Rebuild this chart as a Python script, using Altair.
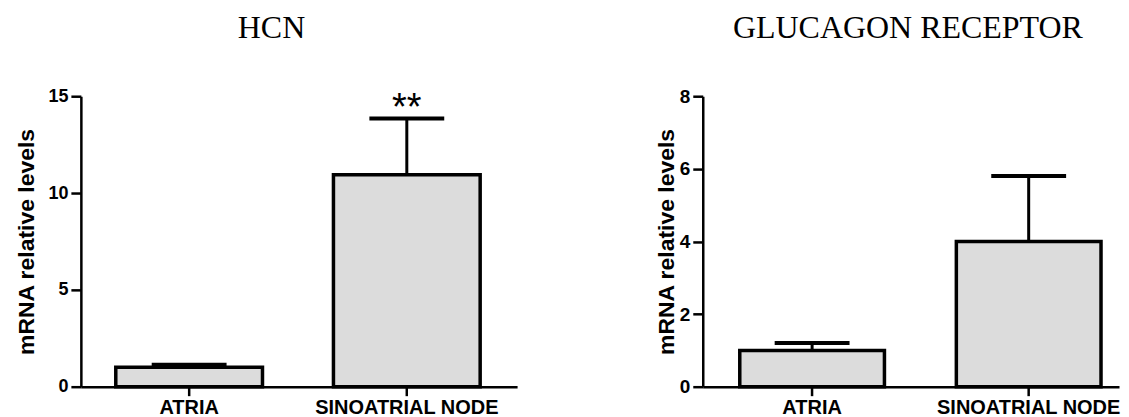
import altair as alt
import pandas as pd

categories = ["ATRIA", "SINOATRIAL NODE"]

hcn_mean = [1.0, 10.95]
hcn_err = [0.13, 2.9]
hcn_sig = ["", "**"]
hcn_ticks = [0, 5, 10, 15]

glu_mean = [1.0, 4.0]
glu_err = [0.2, 1.8]
glu_sig = ["", ""]
glu_ticks = [0, 2, 4, 6, 8]

SANS = "Arial, Liberation Sans"
SERIF = "Times New Roman, Liberation Serif"


def make_df(means, errs, sig):
    return pd.DataFrame({
        "cat": categories,
        "mean": means,
        "upper": [m + e for m, e in zip(means, errs)],
        "sig": sig,
    })


def panel(df, title, title_dx, ymax, yticks, width, p_inner, p_outer, align,
          title_pad, ylabel_size):
    x = alt.X("cat:N", sort=categories, title=None,
              scale=alt.Scale(paddingInner=p_inner, paddingOuter=p_outer, align=align),
              axis=alt.Axis(labelAngle=0, labelFont=SANS, labelFontSize=20,
                            labelFontWeight="bold", labelColor="black", labelLimit=0,
                            tickSize=9, tickWidth=2.5, tickColor="black",
                            domainColor="black", domainWidth=2.5, labelPadding=2))
    yscale = alt.Scale(domain=[0, ymax], nice=False, zero=True)
    yaxis = alt.Axis(values=yticks, title="mRNA relative levels", titleFont=SANS,
                     titleFontSize=23, titleFontWeight="bold", titleColor="black",
                     titlePadding=title_pad, labelFont=SANS, labelFontSize=ylabel_size,
                     labelFontWeight="bold", labelColor="black", labelPadding=3,
                     tickSize=10, tickWidth=2.5, tickColor="black",
                     domainColor="black", domainWidth=2.5, grid=False)
    base = alt.Chart(df).encode(x=x)
    bars = base.mark_bar(fill="#dcdcdc", stroke="black", strokeWidth=3.5).encode(
        y=alt.Y("mean:Q", scale=yscale, axis=yaxis))
    rule = base.mark_rule(color="black", strokeWidth=3).encode(
        y=alt.Y("mean:Q", scale=yscale, axis=yaxis), y2="upper:Q")
    cap = base.mark_tick(color="black", thickness=4, size=75, opacity=1).encode(
        y=alt.Y("upper:Q", scale=yscale, axis=yaxis))
    stars = base.mark_text(font=SANS, fontSize=38, color="black", baseline="alphabetic",
                           dy=2).encode(
        y=alt.Y("upper:Q", scale=yscale, axis=yaxis), text="sig:N")
    return alt.layer(bars, rule, cap, stars).properties(
        width=width, height=291,
        title=alt.TitleParams(text=title, font=SERIF, fontSize=32, fontWeight="normal",
                              color="black", anchor="middle", frame="group",
                              dx=title_dx, offset=42))


left = panel(make_df(hcn_mean, hcn_err, hcn_sig), "HCN", -27.5, 15, hcn_ticks,
             437, 0.326, 0.165, 0.486, 9, 18)
right = panel(make_df(glu_mean, glu_err, glu_sig), "GLUCAGON RECEPTOR", -3, 8, glu_ticks,
              417, 0.332, 0.127, 0.673, 1, 19)

chart = alt.hconcat(left, right, spacing=138).properties(
    padding={"left": 7, "top": 4, "right": 0, "bottom": 0}
).configure(background="white").configure_view(stroke=None)

chart.save("out.html", embed_options={"renderer": "svg", "actions": False})
